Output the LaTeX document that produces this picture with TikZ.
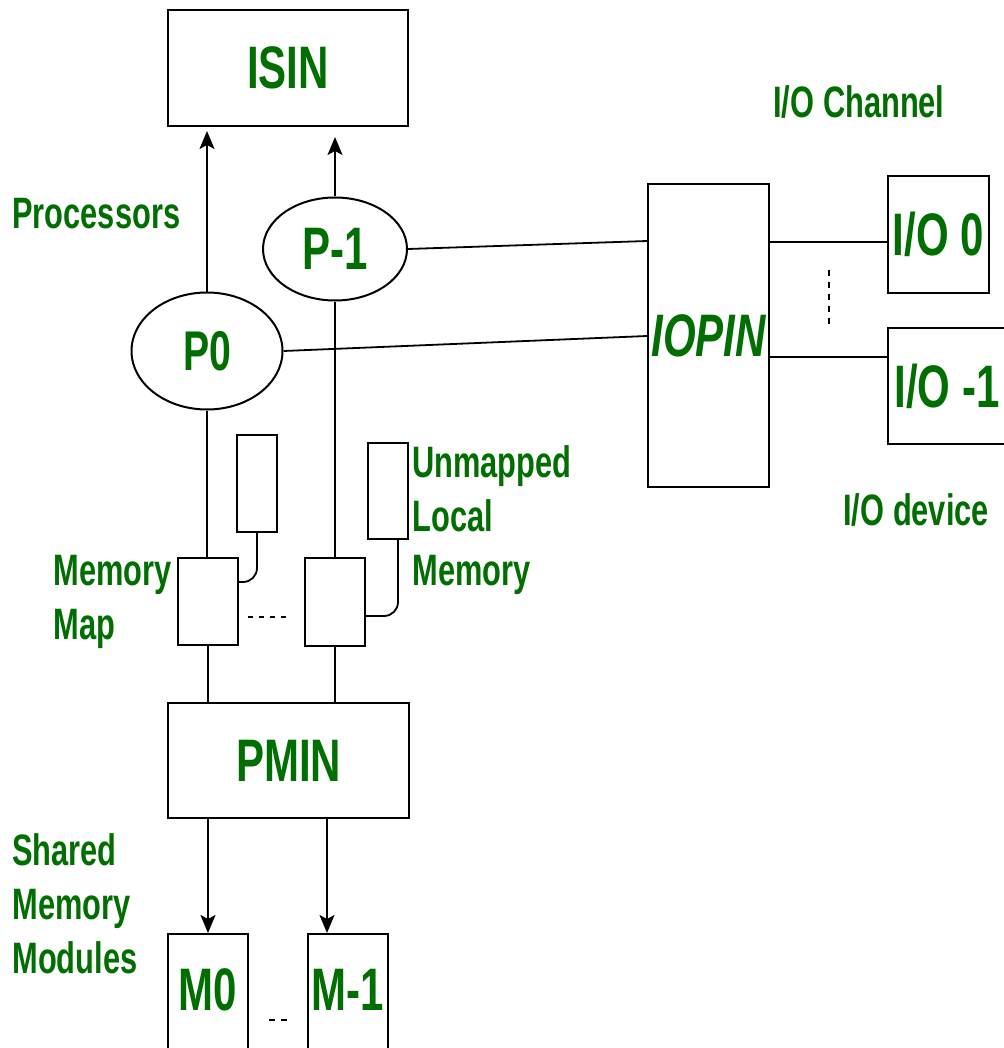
\documentclass[tikz,border=0pt]{standalone}
\usepackage{fontspec}
\setmainfont{Liberation Sans}[FakeStretch=0.7]
\usetikzlibrary{shapes.geometric,arrows.meta,calc}
\definecolor{labelgreen}{RGB}{0,110,0}

\begin{document}
\begin{tikzpicture}[x=0.5pt,y=-0.5pt,
  box/.style={draw,line width=1pt,inner sep=0pt,text=labelgreen,font=\fontsize{30}{36}\selectfont\bfseries},
  proc/.style={box,ellipse},
  note/.style={text=labelgreen,font=\fontsize{22}{27}\selectfont\bfseries,align=left,inner sep=0pt,anchor=north west},
  wire/.style={line width=0.9pt},
  conn/.style={wire,-{Stealth[length=9pt,width=7.5pt,inset=2pt]}}]
\useasboundingbox (0,0) rectangle (1004,1048);
\clip (0,0) rectangle (1004,1048);
% interconnection networks
\node[box,minimum width=120pt,minimum height=58pt] (isin) at (288,68) {ISIN};
\node[box,minimum width=120.5pt,minimum height=57.5pt] (pmin) at (288.5,760.5) {PMIN};
\node[box,minimum width=60.5pt,minimum height=151.5pt,font=\fontsize{30}{36}\selectfont\bfseries\itshape] (iopin) at (708.5,335.5) {IOPIN};
% processors
\node[proc,minimum width=72pt,minimum height=51.5pt] (p1) at (335,249) {P-1};
\node[proc,minimum width=75.5pt,minimum height=58.5pt,font=\fontsize{28}{34}\selectfont\bfseries] (p0) at (207,351) {P0};
% memory maps and local memory
\node[box,minimum width=30pt,minimum height=43.5pt] (map1) at (208,601.5) {};
\node[box,minimum width=30pt,minimum height=44pt] (map2) at (335,602) {};
\node[box,minimum width=20pt,minimum height=48.5pt] (loc1) at (257,483.5) {};
\node[box,minimum width=20pt,minimum height=48pt] (loc2) at (388,491) {};
% shared memory modules
\node[box,minimum width=40pt,minimum height=70pt,anchor=north] (m0) at (208,933) {};
\node[box,minimum width=40pt,minimum height=70pt,anchor=north] (m1) at (348,933) {};
\node[box,draw=none] (m0txt) at (208,990) {M0};
\node[box,draw=none] (m1txt) at (348,990) {M-1};
% i/o devices
\node[box,minimum width=50.5pt,minimum height=58.5pt] (io0) at (938.5,234.5) {I/O 0};
\node[box,minimum width=59pt,minimum height=58pt] (io1) at (947,386) {I/O -1};
% labels
\foreach \n/\x/\y/\t in {proclbl/12/198/Processors, chlbl/773/85/{I/O Channel}, devlbl/843/493/{I/O device},
  maplbl/53/555/{Memory\\Map}, loclbl/412/445/{Unmapped\\Local\\Memory}, shlbl/12/833/{Shared\\Memory\\Modules}}
  {\node[note] (\n) at (\x,\y) {\t};}
% connections
\coordinate (inA) at ($(iopin.north west)+(0,58)$); \coordinate (inB) at ($(iopin.north west)+(0,153)$);
\coordinate (chA) at (829,242); \coordinate (chB) at (829,357);
\coordinate (m1in) at ($(m1.north west)+(20,0)$);
\draw[conn,shorten >=2pt] (p0.north) -- (p0.north |- isin.south);
\draw[conn,shorten >=5pt] (p1.north) -- (p1.north |- isin.south);
\draw[wire] (p1.east) -- (inA);
\draw[wire] (p0.east) -- (inB);
\draw[wire] (iopin.east |- chA) -- (io0.west |- chA);
\draw[wire] (iopin.east |- chB) -- (io1.west |- chB);
\draw[wire,dash pattern=on 3pt off 3pt] ($(chA)+(0,28)$) -- ($(chB)+(0,-29)$);
\draw[wire] (p0.south) -- (p0.south |- map1.north);
\draw[wire] (p1.south) -- (map2.north);
\draw[wire] (map1.south) -- (map1.south |- pmin.north);
\draw[wire] (map2.south) -- (map2.south |- pmin.north);
\draw[wire,rounded corners=7pt] (loc1.south) |- ($(map1.north east)+(0,25)$);
\draw[wire,rounded corners=7pt] ($(loc2.south east)+(-11,0)$) |- ($(map2.north east)+(0,59)$);
\draw[wire,dash pattern=on 2.5pt off 3pt] ($(map1.east)+(9,15.5)$) -- ++(41,0);
\draw[conn] (m0.north |- pmin.south) -- (m0.north);
\draw[conn] (m1in |- pmin.south) -- (m1in);
\draw[wire,dash pattern=on 3pt off 3pt] ($(m0.north east)+(20,87)$) -- ++(19,0);
\end{tikzpicture}
\end{document}
